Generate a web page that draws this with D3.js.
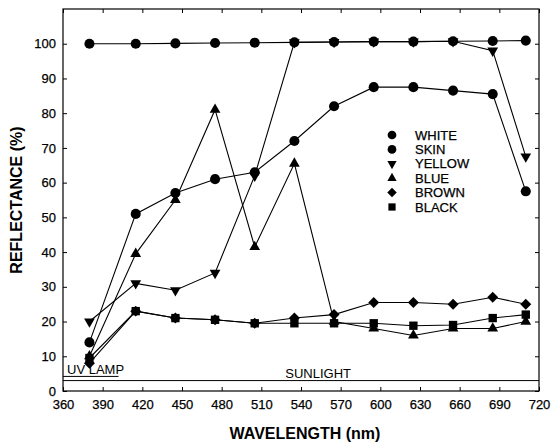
<!DOCTYPE html>
<html>
<head>
<meta charset="utf-8">
<script src="https://cdn.jsdelivr.net/npm/d3@7"></script>
<style>
  body { margin: 0; background: #fff; }
  text { font-family: "Liberation Sans", Arial, sans-serif; fill: #000; }
</style>
</head>
<body>
<div id="chart"></div>
<script>
const wavelengths = [380, 415, 445, 475, 505, 535, 565, 595, 625, 655, 685, 710];
const white  = [100, 100, 100.1, 100.2, 100.3, 100.4, 100.5, 100.6, 100.6, 100.7, 100.8, 100.9];
const skin   = [14, 51, 57, 61, 63, 72, 82, 87.5, 87.5, 86.5, 85.5, 57.5];
const yellow = [20, 31, 29, 34, 62, 100.4, 100.5, 100.6, 100.6, 100.7, 98, 67.5];
const blue   = [10, 39.5, 55, 81, 41.5, 65.5, 20, 18, 16, 18, 18, 20];
const brown  = [8, 23, 21, 20.5, 19.5, 21, 22, 25.5, 25.5, 25, 27, 25];
const black  = [9.5, 23, 21, 20.5, 19.5, 19.5, 19.5, 19.5, 18.8, 19, 21, 22];

const seriesNames = ["WHITE", "SKIN", "YELLOW", "BLUE", "BROWN", "BLACK"];
const xTicks = [360, 390, 420, 450, 480, 510, 540, 570, 600, 630, 660, 690, 720];
const yTicks = [0, 10, 20, 30, 40, 50, 60, 70, 80, 90, 100];

// light sources drawn as bars near the bottom
const lampNames = ["UV LAMP", "SUNLIGHT"];
const lampFrom = [360, 360];
const lampTo = [402, 720];
const lampLevel = [4.2, 3.0];

const series = [white, skin, yellow, blue, brown, black];

const svg = d3.select("#chart").append("svg")
    .attr("width", 552)
    .attr("height", 443);

const margin = {left: 63, right: 13, top: 9, bottom: 52};
const x = d3.scaleLinear().domain([360, 720]).range([margin.left, 552 - margin.right]);
const y = d3.scaleLinear().domain([0, 110]).range([443 - margin.bottom, margin.top]);

// frame
svg.append("rect")
    .attr("x", x(360)).attr("y", y(110))
    .attr("width", x(720) - x(360)).attr("height", y(0) - y(110))
    .attr("fill", "none").attr("stroke", "#000").attr("stroke-width", 1.2);

// axes with inside ticks
svg.append("g")
    .attr("transform", `translate(0,${y(0)})`)
    .call(d3.axisBottom(x).tickValues(xTicks).tickSizeInner(-4).tickSizeOuter(0).tickPadding(9))
    .call(g => g.select(".domain").remove())
    .call(g => g.selectAll("text").attr("font-size", 13).attr("font-family", "Liberation Sans, Arial, sans-serif")
        .attr("stroke", "#000").attr("stroke-width", 0.25));

svg.append("g")
    .attr("transform", `translate(${x(360)},0)`)
    .call(d3.axisLeft(y).tickValues(yTicks).tickSizeInner(-4).tickSizeOuter(0).tickPadding(7))
    .call(g => g.select(".domain").remove())
    .call(g => g.selectAll("text").attr("font-size", 13).attr("font-family", "Liberation Sans, Arial, sans-serif")
        .attr("stroke", "#000").attr("stroke-width", 0.25));

svg.append("g")
    .attr("transform", `translate(${x(720)},0)`)
    .call(d3.axisRight(y).tickValues(yTicks).tickSizeInner(-4).tickSizeOuter(0).tickFormat(""))
    .call(g => g.select(".domain").remove());

svg.append("g")
    .attr("transform", `translate(0,${y(110)})`)
    .call(d3.axisTop(x).tickValues(xTicks).tickSizeInner(-4).tickSizeOuter(0).tickFormat(""))
    .call(g => g.select(".domain").remove());

// light source bars
lampNames.forEach((name, i) => {
  svg.append("line")
      .attr("x1", x(lampFrom[i])).attr("x2", x(lampTo[i]))
      .attr("y1", y(lampLevel[i])).attr("y2", y(lampLevel[i]))
      .attr("stroke", "#000").attr("stroke-width", 1);
});
svg.append("text")
    .attr("x", x(lampFrom[0]) + 4).attr("y", y(lampLevel[0]) - 2)
    .attr("font-size", 13).text(lampNames[0]);
svg.append("text")
    .attr("x", x(553)).attr("y", y(lampLevel[1]) - 3)
    .attr("text-anchor", "middle")
    .attr("font-size", 13).text(lampNames[1]);

// marker shapes per series
const shapes = [
  {type: d3.symbolCircle, size: 80, rot: 0},
  {type: d3.symbolCircle, size: 80, rot: 0},
  {type: d3.symbolTriangle, size: 50, rot: 180},
  {type: d3.symbolTriangle, size: 50, rot: 0},
  {type: d3.symbolSquare, size: 60, rot: 45},
  {type: d3.symbolSquare, size: 70, rot: 0}
];

const line = d3.line()
    .x((d, i) => x(wavelengths[i]))
    .y(d => y(d));

series.forEach((vals, s) => {
  svg.append("path")
      .datum(vals)
      .attr("d", line)
      .attr("fill", "none")
      .attr("stroke", "#000")
      .attr("stroke-width", 1.1);
});

series.forEach((vals, s) => {
  const sym = d3.symbol().type(shapes[s].type).size(shapes[s].size);
  svg.append("g").selectAll("path")
      .data(vals)
      .enter().append("path")
      .attr("d", sym)
      .attr("transform", (d, i) => `translate(${x(wavelengths[i])},${y(d)}) rotate(${shapes[s].rot})`)
      .attr("fill", "#000");
});

// legend
const legend = svg.append("g").attr("transform", "translate(392,135)");
seriesNames.forEach((name, i) => {
  const sym = d3.symbol().type(shapes[i].type).size(shapes[i].size * 0.75);
  legend.append("path")
      .attr("d", sym)
      .attr("transform", `translate(0,${i * 14.4}) rotate(${shapes[i].rot})`)
      .attr("fill", "#000");
  legend.append("text")
      .attr("x", 23).attr("y", i * 14.4)
      .attr("dy", "0.36em")
      .attr("font-size", 13)
      .attr("stroke", "#000").attr("stroke-width", 0.25)
      .text(name);
});

// axis titles
svg.append("text")
    .attr("transform", `translate(22,200) rotate(-90)`)
    .attr("text-anchor", "middle")
    .attr("font-size", 16).attr("font-weight", "bold")
    .text("REFLECTANCE (%)");

svg.append("text")
    .attr("x", (x(360) + x(720)) / 2 + 4).attr("y", 439)
    .attr("text-anchor", "middle")
    .attr("font-size", 16).attr("font-weight", "bold")
    .text("WAVELENGTH (nm)");
</script>
</body>
</html>
